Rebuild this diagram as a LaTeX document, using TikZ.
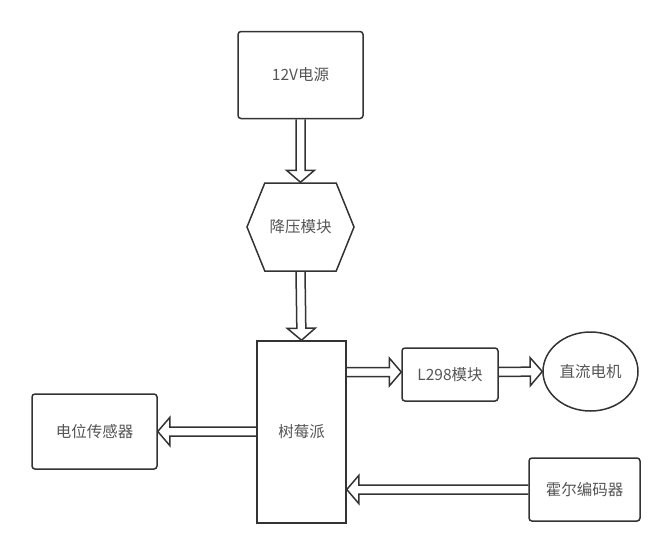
\documentclass[tikz,border=0pt]{standalone}
\usepackage{fontspec}
\setmainfont{Noto Sans CJK SC}
\usepackage{xcolor}
\usepackage{tikz}
\usetikzlibrary{shapes.geometric, shapes.symbols, positioning, calc}

\definecolor{lineclr}{HTML}{333333}
\definecolor{textclr}{HTML}{555555}

\tikzset{
  blk/.style={draw=lineclr, line width=1.5pt, rounded corners=3pt, align=center,
    text=textclr, font=\fontsize{15.5}{18}\selectfont, inner sep=0pt},
  arrline/.style={draw=lineclr, line width=1.5pt, line join=miter}
}

% hollow arrow from #1 to #2
\newcommand\fatarrow[2]{%
  \coordinate (hb) at ($(#2)!12pt!(#1)$);
  \draw[arrline] ($(#1)!4.5pt!90:(#2)$) -- ($(hb)!4.5pt!90:(#2)$)
    -- ($(hb)!14pt!90:(#2)$) -- (#2) -- ($(hb)!14pt!-90:(#2)$)
    -- ($(hb)!4.5pt!-90:(#2)$) -- ($(#1)!4.5pt!-90:(#2)$);
}

\begin{document}
\begin{tikzpicture}[x=1pt, y=-1pt]
  \useasboundingbox (0,0) rectangle (672,554);
  \node[blk, minimum width=125pt, minimum height=87pt] (pwr) at (300.5,75) {12V电源};
  \node[blk, rounded corners=0pt, signal, signal to=west and east, signal pointer angle=136,
    minimum width=107pt, minimum height=88pt] (buck) at (300.5,227) {降压模块};
  \node[blk, rounded corners=0pt, minimum width=89pt, minimum height=182pt] (pi) at (301.5,432) {树莓派};
  \node[blk, minimum width=96pt, minimum height=53pt] (l298) at (450,374.5) {L298模块};
  \node[blk, ellipse, minimum width=95pt, minimum height=79pt] (motor) at (590.5,371.5) {直流电机};
  \node[blk, minimum width=125pt, minimum height=75pt] (sensor) at (94.5,431.5) {电位传感器};
  \node[blk, minimum width=111pt, minimum height=63pt] (hall) at (584.5,489.5) {霍尔编码器};

  \fatarrow{pwr.south}{buck.north}
  \fatarrow{buck.south}{pi.north}
  \fatarrow{pi.east |- 0,372}{l298.west |- 0,372}
  \fatarrow{l298.east |- 0,372}{motor.west}
  \fatarrow{pi.west |- sensor.east}{sensor.east}
  \fatarrow{hall.west}{pi.east |- hall.west}
\end{tikzpicture}
\end{document}
